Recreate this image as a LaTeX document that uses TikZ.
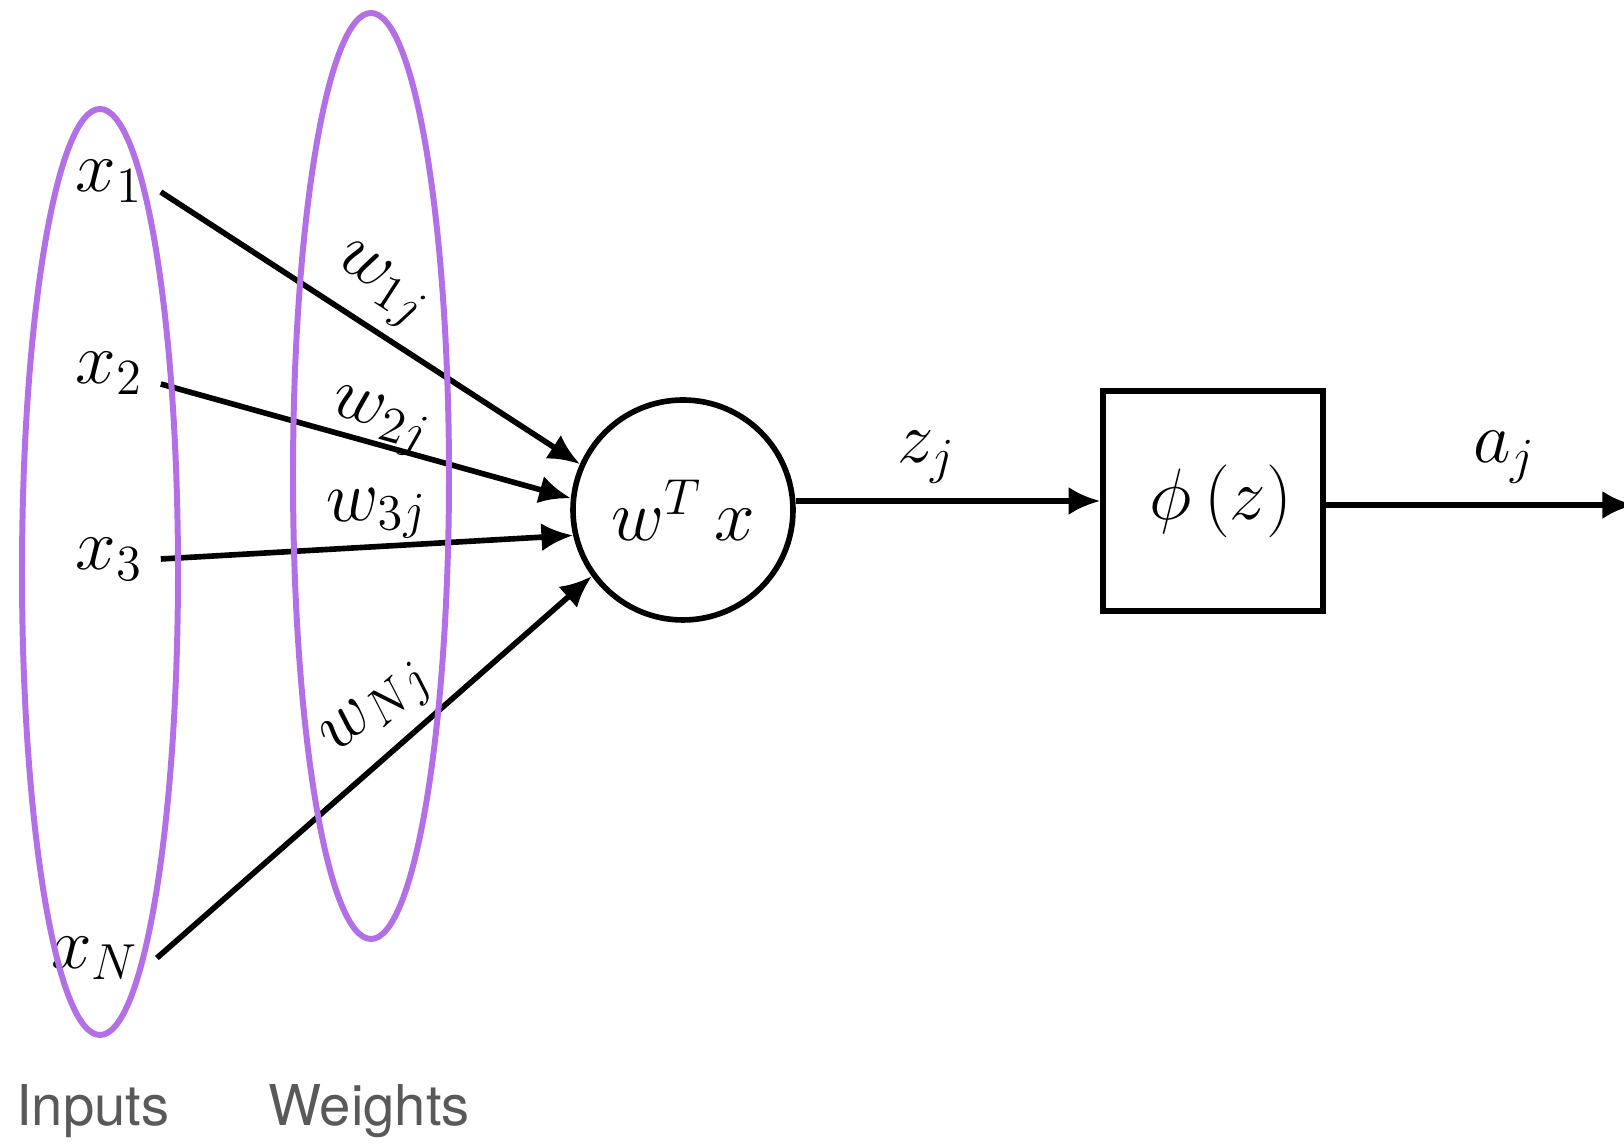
\documentclass[tikz,border=0pt]{standalone}
\usepackage{amsmath,amssymb}
\usepackage{fontspec}
\usetikzlibrary{shapes.geometric,arrows.meta,calc}
\newfontfamily\capfont{TeX Gyre Heros}
\definecolor{lavender}{HTML}{B370E6}

\begin{document}
\begin{tikzpicture}[mathfont/.style={font=\fontsize{20}{24}\selectfont},
                    inp/.style={mathfont, inner sep=5pt},
                    wt/.style={mathfont, sloped, inner sep=2pt},
                    link/.style={line width=1.6pt, -{Latex[length=9pt,width=8pt]}},
                    ring/.style={draw=lavender, line width=1.7pt, ellipse, inner sep=0pt,
                    minimum width=1.56cm, minimum height=9.26cm},
                    caption/.style={font=\capfont\fontsize{16}{19}\selectfont, text=black!65}]
\useasboundingbox (0,0) rectangle (16.24,11.46);
\node[inp] (x1) at (1.09,9.65) {$x_1$};
\node[inp] (x2) at (1.09,7.73) {$x_2$};
\node[inp] (x3) at (1.09,5.87) {$x_3$};
\node[inp] (xN) at (0.95,1.88) {$x_N$};
\node[mathfont, draw, circle, line width=1.6pt, minimum size=2.2cm, inner sep=0pt] (neuron) at (6.83,6.36) {$w^{T}\,x$};
\node[mathfont, draw, rectangle, line width=1.6pt, minimum size=2.2cm] (act) at (12.13,6.45) {\hspace{0.16cm}$\phi\,(z)$};
\coordinate (out) at (16.34,6.41);
\draw[link] (x1.-12) -- node[wt, above=1pt, pos=0.47] (w1) {$w_{1j}$} (neuron.156);
\draw[link] (x2.-12) -- node[wt, above=-4pt, pos=0.52] (w2) {$w_{2j}$} (neuron.174);
\draw[link] (x3.east) -- node[wt, above=-1pt, pos=0.53] (w3) {$w_{3j}$} (neuron.193);
\draw[link] (xN.east) -- node[wt, above=1pt, pos=0.57] (wN) {$w_{Nj}$} (neuron.216);
\draw[link] (neuron.east |- act.west) -- node[mathfont, above=1pt, pos=0.43] (zlab) {$z_j$} (act.west);
\draw[link] (act.east |- out) -- node[mathfont, above=2pt, pos=0.58] (alab) {$a_j$} (out);
\node[ring] (inring) at (1.00,5.74) {};
\node[ring] (wring) at (3.71,6.70) {};
\node[caption] (incap) at (0.93,0.35) {Inputs};
\node[caption] (wcap) at (3.69,0.35) {Weights};
\end{tikzpicture}
\end{document}
